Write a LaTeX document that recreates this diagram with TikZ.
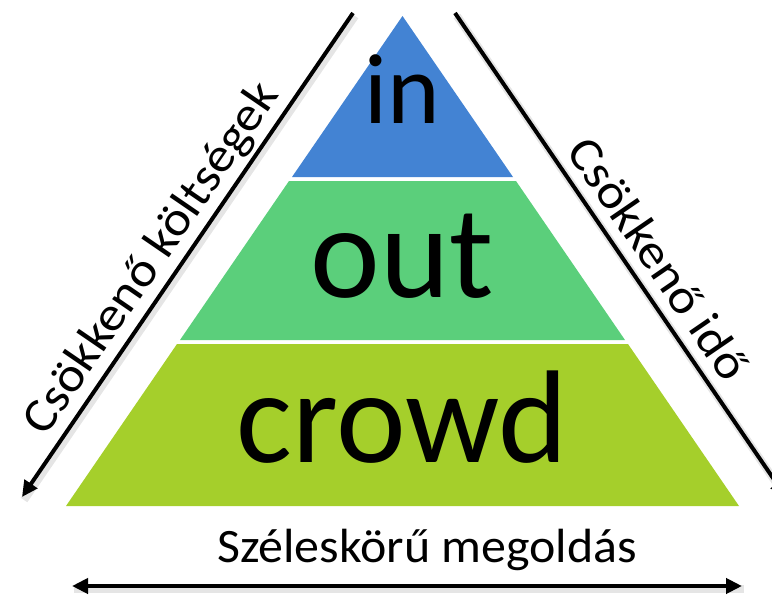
\documentclass[tikz,border=0pt]{standalone}
\usepackage{fontspec}
\setmainfont{Carlito}
\usetikzlibrary{arrows.meta}
\definecolor{cblue}{RGB}{67,131,211}
\definecolor{cgreen}{RGB}{91,207,123}
\definecolor{colive}{RGB}{165,207,43}
\newcommand{\widetxt}[1]{\scalebox{1.09}[1]{#1}}
\begin{document}
\begin{tikzpicture}[x=1pt,y=-1pt,
  arr/.style={line width=4pt,-{Triangle[length=16pt,width=15pt]}},
  darr/.style={line width=4pt,{Triangle[length=16pt,width=15pt]}-{Triangle[length=16pt,width=15pt]}},
  shd/.style={line width=8pt, draw=black, opacity=0.10},
  big/.style={anchor=base, inner sep=0pt},
  lab/.style={font=\fontsize{48}{48}\selectfont, inner sep=0pt}]
\useasboundingbox (0,0) rectangle (772,597);
\clip (0,0) rectangle (772,597);
% pyramid layers
\fill[cblue] (402.5,16) -- (513,177) -- (292,177) -- cycle;
\fill[cgreen] (289,181) -- (516,181) -- (625,340) -- (180,340) -- cycle;
\fill[colive] (177,344) -- (628,344) -- (739,506) -- (66,506) -- cycle;
\node[big, font=\fontsize{100}{100}\selectfont] (tin) at (402.5,123) {in};
\node[big, font=\fontsize{132}{132}\selectfont] (tout) at (402.5,297) {out};
\node[big, font=\fontsize{132}{132}\selectfont] (tcrowd) at (402.5,462) {crowd};
% arrow endpoints
\coordinate (L1) at (353,13);
\coordinate (L2) at (22,497);
\coordinate (R1) at (455,13);
\coordinate (R2) at (786,497);
\coordinate (B1) at (72,586);
\coordinate (B2) at (742,586);
% shadows
\begin{scope}[transform canvas={shift={(2,3)}}]
\draw[shd] (L1) -- (L2);
\draw[shd] (R1) -- (R2);
\draw[shd] (B1) -- (B2);
\end{scope}
% arrows
\draw[arr] (L1) -- (L2);
\draw[arr] (R1) -- (R2);
\draw[darr] (B1) -- (B2);
% labels
\node[lab, anchor=south, rotate=55.6] (lleft) at (170,271) {\widetxt{Csökkenő költségek}};
\node[lab, anchor=south, rotate=-55.6] (lright) at (645,268) {\widetxt{Csökkenő idő}};
\node[lab, anchor=base] (lbottom) at (427,562) {\scalebox{1.04}[1]{Széleskörű megoldás}};
\end{tikzpicture}
\end{document}
